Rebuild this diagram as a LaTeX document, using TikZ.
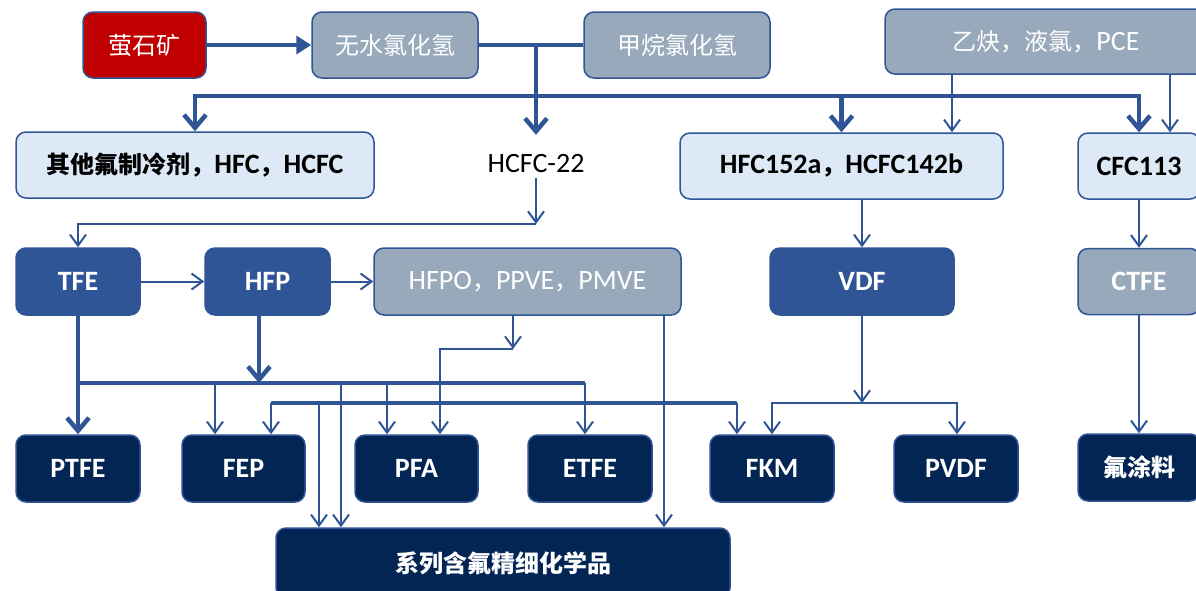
\documentclass[tikz,border=0pt]{standalone}
\usepackage{fontspec}
\setmainfont{Carlito}
\newfontfamily\cjk{Noto Sans CJK SC}
\newcommand\zh[1]{{\cjk\fontsize{24}{28}\selectfont #1}}
\usetikzlibrary{arrows.meta}
\definecolor{lineblue}{HTML}{2F5597}
\definecolor{orered}{HTML}{C00000}
\definecolor{graybox}{HTML}{97A9BB}
\definecolor{lightbox}{HTML}{DDE9F6}
\definecolor{midblue}{HTML}{2F5597}
\definecolor{navy}{HTML}{032553}
\tikzset{
  box/.style={draw=lineblue, line width=1.5pt, rounded corners=10pt, inner sep=0pt,
    font=\fontsize{28}{32}\selectfont, align=center},
  redbox/.style={box, fill=orered, text=white},
  graynode/.style={box, fill=graybox, text=white},
  graybold/.style={graynode, font=\fontsize{28}{32}\selectfont\bfseries},
  lightnode/.style={box, fill=lightbox, text=black, font=\fontsize{28}{32}\selectfont\bfseries},
  bluenode/.style={box, fill=midblue, text=white, font=\fontsize{28}{32}\selectfont\bfseries},
  navynode/.style={box, fill=navy, text=white, font=\fontsize{28}{32}\selectfont\bfseries},
  thk/.style={draw=lineblue, line width=4.5pt},
  thn/.style={draw=lineblue, line width=2pt},
  thkarr/.style={thk, -{Straight Barb[length=13pt,width=22pt]}},
  thnarr/.style={thn, -{Straight Barb[length=11pt,width=16pt]}},
}
\begin{document}
\begin{tikzpicture}[x=1pt,y=-1pt]
\useasboundingbox (0,0) rectangle (1196,590);
\clip (0,0) rectangle (1196,590);
\fill[white] (0,0) rectangle (1196,590);

% row 1
\node[redbox, minimum width=123pt, minimum height=66pt] (ore) at (144.5,45) {\zh{萤石矿}};
\node[graynode, minimum width=166pt, minimum height=66pt] (hcl) at (395,45) {\zh{无水氯化氢}};
\node[graynode, minimum width=186pt, minimum height=66pt] (ch4) at (677,45) {\zh{甲烷氯化氢}};
\node[graynode, minimum width=322pt, minimum height=65pt] (acet) at (1046,41.5) {\zh{乙炔，液氯，}PCE};

% row 2
\node[lightnode, minimum width=358pt, minimum height=66pt] (other) at (195,165) {\zh{其他氟制冷剂，}HFC\zh{，}HCFC};
\node[anchor=base, inner sep=0pt, text height=37pt, text depth=6pt, font=\fontsize{28}{32}\selectfont] (hcfc) at (536,172) {HCFC-22};
\node[lightnode, minimum width=323pt, minimum height=66pt] (hfc152) at (841.5,166) {HFC152a\zh{，}HCFC142b};
\node[lightnode, minimum width=122pt, minimum height=66pt] (cfc113) at (1139,166) {CFC113};

% row 3
\node[bluenode, minimum width=124pt, minimum height=67pt] (tfe) at (78,281.5) {TFE};
\node[bluenode, minimum width=125pt, minimum height=67pt] (hfp) at (267.5,281.5) {HFP};
\node[graynode, minimum width=307pt, minimum height=67pt] (hfpo) at (527.5,281.5) {HFPO\zh{，}PPVE\zh{，}PMVE};
\node[bluenode, minimum width=184pt, minimum height=67pt] (vdf) at (862,281.5) {VDF};
\node[graybold, minimum width=122pt, minimum height=66pt] (ctfe) at (1139,281.5) {CTFE};

% row 4
\node[navynode, minimum width=124pt, minimum height=67pt] (ptfe) at (78,468.5) {PTFE};
\node[navynode, minimum width=123pt, minimum height=67pt] (fep) at (243.5,468.5) {FEP};
\node[navynode, minimum width=123pt, minimum height=67pt] (pfa) at (416.5,468.5) {PFA};
\node[navynode, minimum width=124pt, minimum height=67pt] (etfe) at (590,468.5) {ETFE};
\node[navynode, minimum width=124pt, minimum height=67pt] (fkm) at (772,468.5) {FKM};
\node[navynode, minimum width=124pt, minimum height=67pt] (pvdf) at (956,468.5) {PVDF};
\node[navynode, minimum width=122pt, minimum height=67pt] (coat) at (1139,467.5) {\zh{氟涂料}};

% row 5
\node[navynode, minimum width=454pt, minimum height=70pt] (fine) at (503,563) {\zh{系列含氟精细化学品}};

% helper coordinates
\coordinate (jt) at (536,45);
\coordinate (jb) at (536,96);
\coordinate (xa) at (952,0);
\coordinate (xb) at (1170,0);
\coordinate (j1) at (536,224);
\coordinate (xhfp) at (259,0);
\coordinate (b1L) at (78,383);
\coordinate (b1R) at (585,383);
\coordinate (xfep1) at (215,0);
\coordinate (xfine1) at (341,0);
\coordinate (xpfa1) at (387,0);
\coordinate (b2L) at (271,403);
\coordinate (b2R) at (737,403);
\coordinate (xfine2) at (319,0);
\coordinate (p1) at (513,349);
\coordinate (xpo2) at (440,0);
\coordinate (xpo3) at (664,0);
\coordinate (v1) at (862,403);
\coordinate (xv1) at (772,0);
\coordinate (xv2) at (957,0);

% top connectors
\draw[thk, -{Triangle[length=15pt,width=18pt]}] (ore) -- (hcl);
\draw[thk] (hcl) -- (ch4);
\draw[thkarr] (jt) -- (hcfc.north);
\draw[thkarr] (jb) -| (other.north);
\draw[thkarr] (jb) -| (cfc113.north);
\draw[thkarr] (hfc152.north |- jb) -- (hfc152.north);
\draw[thnarr] (acet.south -| xa) -- (hfc152.north -| xa);
\draw[thnarr] (acet.south -| xb) -- (cfc113.north -| xb);

% HCFC-22 to TFE
\draw[thnarr] (hcfc.south) -- (j1);
\draw[thnarr] (j1) -| (tfe.north);

% row 3 horizontal
\draw[thnarr] (tfe) -- (hfp);
\draw[thnarr] (hfp) -- (hfpo);

% bus 1
\draw[thk] (b1L) -- (b1R);
\draw[thkarr] (tfe.south) -- (ptfe.north);
\draw[thkarr] (hfp.south -| xhfp) -- (xhfp |- b1L);
\draw[thnarr] (xfep1 |- b1L) -- (fep.north -| xfep1);
\draw[thnarr] (xfine1 |- b1L) -- (fine.north -| xfine1);
\draw[thnarr] (xpfa1 |- b1L) -- (pfa.north -| xpfa1);
\draw[thnarr] (b1R) -- (etfe.north -| b1R);

% bus 2
\draw[thk] (b2L) -- (b2R);
\draw[thnarr] (b2L) -- (fep.north -| b2L);
\draw[thnarr] (xfine2 |- b2L) -- (fine.north -| xfine2);
\draw[thnarr] (b2R) -- (fkm.north -| b2R);

% HFPO
\draw[thnarr] (hfpo.south -| p1) -- (p1);
\draw[thnarr] (p1) -| (pfa.north -| xpo2);
\draw[thnarr] (hfpo.south -| xpo3) -- (fine.north -| xpo3);

% VDF
\draw[thnarr] (hfc152.south -| v1) -- (vdf.north -| v1);
\draw[thnarr] (vdf.south -| v1) -- (v1);
\draw[thnarr] (v1) -| (fkm.north -| xv1);
\draw[thnarr] (v1) -| (pvdf.north -| xv2);

% CTFE
\draw[thnarr] (cfc113.south) -- (ctfe.north);
\draw[thnarr] (ctfe.south) -- (coat.north);
\end{tikzpicture}
\end{document}
